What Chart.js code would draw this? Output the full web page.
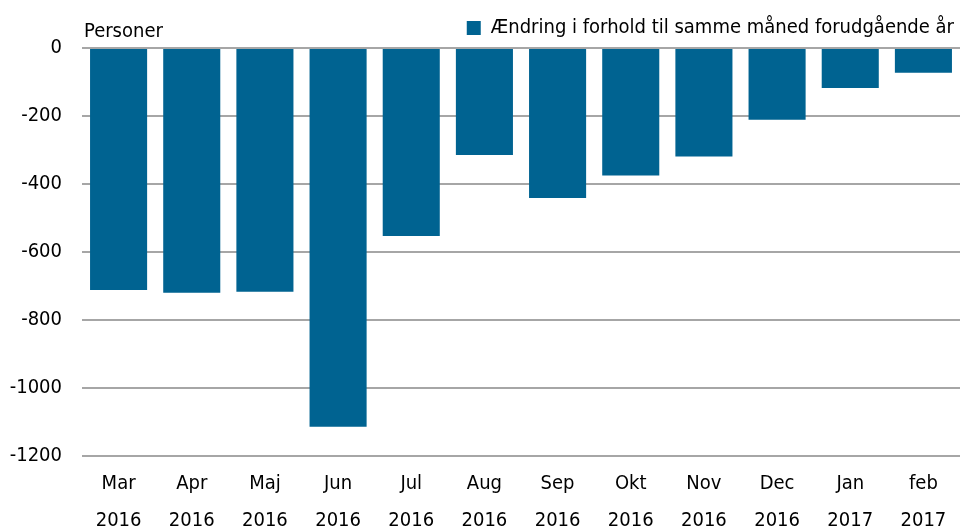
<!DOCTYPE html>
<html>
<head>
<meta charset="utf-8">
<script src="https://cdn.jsdelivr.net/npm/chart.js@4"></script>
<style>
    body { margin: 0; background: #fff; }
    #container { position: relative; width: 960px; height: 530px; }
    #unit { position: absolute; left: 84px; top: 18px; font: 20px "DejaVu Sans Condensed", sans-serif; color: #000; }
</style>
</head>
<body>
<div id="container">
    <canvas id="BarChart" width="960" height="530"></canvas>
    <div id="unit">Personer</div>
</div>

<script>
    // data
    var months = ['Mar', 'Apr', 'Maj', 'Jun', 'Jul', 'Aug', 'Sep', 'Okt', 'Nov', 'Dec', 'Jan', 'feb'];
    var years = ['2016', '2016', '2016', '2016', '2016', '2016', '2016', '2016', '2016', '2016', '2017', '2017'];
    var change = [-712, -720, -717, -1114, -553, -315, -441, -375, -319, -211, -118, -73];

    var labels = months.map(function (m, i) { return [m, years[i]]; });
    var font = '"DejaVu Sans Condensed", sans-serif';

    var ctx = document.getElementById("BarChart").getContext('2d');
    var myBarChart = new Chart(ctx, {
        type: 'bar',
        data: {
            labels: labels,
            datasets: [
                {
                    label: "Ændring i forhold til samme måned forudgående år",
                    backgroundColor: '#006391',
                    data: change,
                    categoryPercentage: 1,
                    barPercentage: 0.78
                }
            ]
        },
        options: {
            responsive: false,
            animation: false,
            layout: { padding: { top: 12, right: 0, left: 0, bottom: 0 } },
            plugins: {
                legend: {
                    position: 'top',
                    align: 'end',
                    labels: {
                        color: '#000',
                        font: { family: font, size: 20 },
                        boxWidth: 14,
                        boxHeight: 14,
                        padding: 6
                    }
                },
                tooltip: { enabled: false }
            },
            scales: {
                y: {
                    min: -1200,
                    max: 0,
                    afterFit: function (scale) { scale.width = 82; },
                    ticks: {
                        stepSize: 200,
                        color: '#000',
                        padding: 20,
                        font: { family: font, size: 20 },
                        callback: function (v) { return String(v); }
                    },
                    grid: { color: '#a6a6a6', lineWidth: 2, drawTicks: false },
                    border: { display: false }
                },
                x: {
                    afterFit: function (scale) { scale.height = 74; },
                    ticks: {
                        color: '#000',
                        padding: 1,
                        font: { family: font, size: 20, lineHeight: 1.85 }
                    },
                    grid: { display: false },
                    border: { display: false }
                }
            }
        }
    });
</script>
</body>
</html>
